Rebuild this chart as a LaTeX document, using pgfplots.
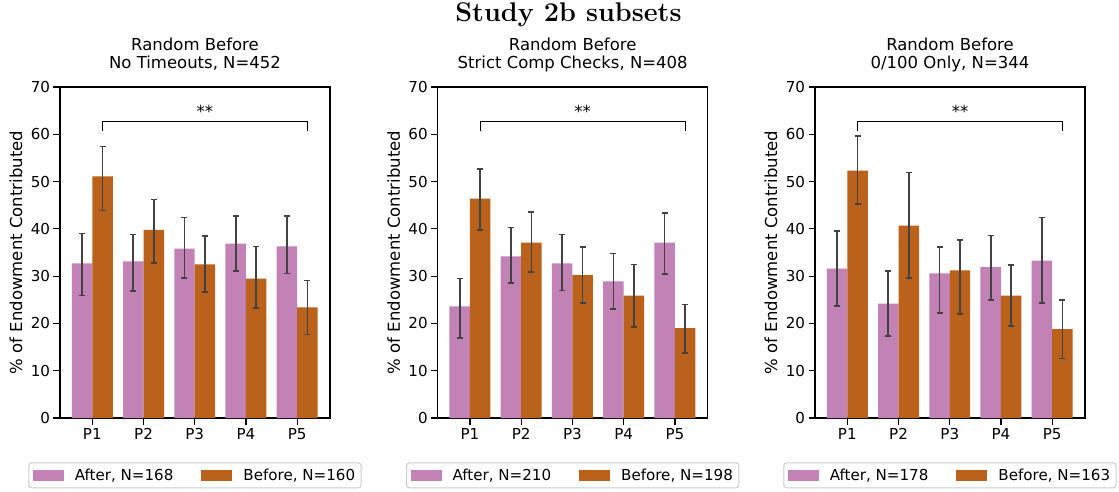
\documentclass[border=0pt]{standalone}
\usepackage{fontspec}
\setsansfont{DejaVu Sans}
\usepackage{pgfplots}
\pgfplotsset{compat=1.18}
\usepackage{pgfplotstable}

\definecolor{after}{HTML}{C282B5}
\definecolor{before}{HTML}{BA611B}
\definecolor{errc}{HTML}{424242}

% x, After mean/low/high, Before mean/low/high
\pgfplotstableread{
x a alo ahi b blo bhi
0 32.7 25.9 39.0 51.1 43.9 57.4
1 33.1 26.8 38.8 39.8 32.8 46.2
2 35.8 29.6 42.4 32.5 26.7 38.5
3 36.9 31.1 42.7 29.5 23.3 36.3
4 36.3 30.6 42.7 23.4 17.7 29.1
}\dataA
\pgfplotstableread{
x a alo ahi b blo bhi
0 23.6 16.9 29.5 46.4 39.7 52.7
1 34.2 28.6 40.3 37.1 30.9 43.6
2 32.7 27.0 38.8 30.2 24.3 36.2
3 28.9 23.0 34.8 25.9 19.3 32.5
4 37.1 30.4 43.3 19.0 13.7 24.0
}\dataB
\pgfplotstableread{
x a alo ahi b blo bhi
0 31.6 23.7 39.5 52.3 45.2 59.6
1 24.2 17.3 31.1 40.7 29.6 51.9
2 30.6 22.2 36.2 31.2 22.0 37.6
3 31.9 24.9 38.6 25.9 19.4 32.3
4 33.3 24.3 42.4 18.8 12.6 25.0
}\dataC

\newcommand\ticksize{\sffamily\fontsize{15.1}{18}\selectfont}
\newcommand\labsize{\sffamily\fontsize{16.5}{20}\selectfont}

\pgfplotsset{
  panel/.style={
    width=270pt, height=331pt, scale only axis,
    anchor=north west,
    xmin=-0.63, xmax=4.64, ymin=0, ymax=70,
    xtick={0,...,4}, xticklabels={P1,P2,P3,P4,P5},
    ytick={0,10,...,70},
    tick align=outside, xtick pos=bottom, ytick pos=left,
    major tick length=6.5pt,
    every tick/.style={black, line width=1.25pt},
    axis line style={line width=1.25pt},
    tick label style={font=\ticksize},
    /pgf/number format/assume math mode=true,
    ylabel={\% of Endowment Contributed},
    ylabel style={font=\labsize, at={(axis description cs:-0.163,0.5)}, anchor=center},
    legend columns=2,
    legend style={at={(0.5,-0.134)}, anchor=north, font=\ticksize,
      draw=black!20, line width=1pt, rounded corners=3pt, inner sep=4pt,
      nodes={inner sep=2pt},
      /tikz/every odd column/.append style={column sep=9pt},
      /tikz/every even column/.append style={column sep=26pt}},
    legend image code/.code={\fill[##1, sharp corners] (0pt,-5.3pt) rectangle (31pt,5.3pt);},
    clip=false,
  },
  bars/.style={ybar, bar width=0.4, bar shift=0, draw=none, fill=#1,
    error bars/.cd, y dir=both, y explicit,
    error bar style={draw=errc, fill=none, line width=1.6pt},
    error mark options={draw=errc, rotate=90, mark size=3pt, line width=1.6pt},
    /pgfplots/.cd},
}

\newcommand\panel[5]{%
  \begin{axis}[panel, at={(#1pt,-87pt)}]
    \addplot[bars=after] table[x expr=\thisrow{x}-0.2, y=a,
      y error plus expr=\thisrow{ahi}-\thisrow{a},
      y error minus expr=\thisrow{a}-\thisrow{alo}] {#2};
    \addlegendentry{#4}
    \addplot[bars=before] table[x expr=\thisrow{x}+0.2, y=b,
      y error plus expr=\thisrow{bhi}-\thisrow{b},
      y error minus expr=\thisrow{b}-\thisrow{blo}] {#2};
    \addlegendentry{#5}
    \draw[line width=1pt] (axis cs:0.2,60.6) -- (axis cs:0.2,62.7)
      -- (axis cs:4.2,62.7) -- (axis cs:4.2,60.6);
    \node[font=\labsize, anchor=base] at (axis cs:2.2,63.6) {**};
  \end{axis}
  \node[font=\labsize, anchor=base] at ({#1pt+135pt},-50pt) {Random Before};
  \node[font=\labsize, anchor=base] at ({#1pt+135pt},-68.3pt) {#3};
}

\begin{document}
\begin{tikzpicture}
  \useasboundingbox (0,0) rectangle (1119pt,-491pt);
  \node[font=\fontsize{27}{32}\selectfont\bfseries, anchor=base] at (568.4pt,-21pt) {Study 2b subsets};
  \panel{60}{\dataA}{No Timeouts, N=452}{After, N=168}{Before, N=160}
  \panel{437.7}{\dataB}{Strict Comp Checks, N=408}{After, N=210}{Before, N=198}
  \panel{815}{\dataC}{0/100 Only, N=344}{After, N=178}{Before, N=163}
\end{tikzpicture}
\end{document}
